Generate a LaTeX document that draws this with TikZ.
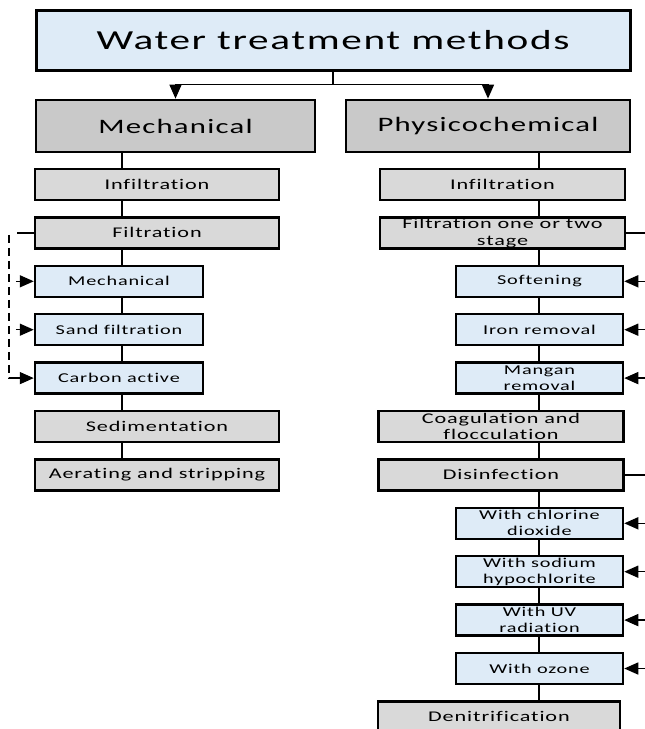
\documentclass[tikz,border=0pt]{standalone}
\usepackage{fontspec}
\setmainfont{Carlito}[FakeStretch=1.5,LetterSpace=6,Ligatures=NoCommon,RawFeature={-liga;-clig;-dlig}]
\usetikzlibrary{arrows.meta,backgrounds}
\definecolor{bluefill}{HTML}{DEEBF7}
\definecolor{grayfill}{HTML}{D9D9D9}
\definecolor{hdrfill}{HTML}{C9C9C9}
\begin{document}
\begin{tikzpicture}[x=1pt,y=-1pt,
  boxbase/.style={draw=black, line width=2.5pt, inner sep=0pt, minimum height=31pt, align=center},
  graybox/.style={boxbase, fill=grayfill, minimum width=245pt, font=\fontsize{14.8}{16.5}\selectfont},
  bluebox/.style={boxbase, fill=bluefill, minimum width=167pt, font=\fontsize{13.5}{16}\selectfont},
  hdrbox/.style={boxbase, line width=2.7pt, fill=hdrfill, minimum height=52pt, font=\fontsize{20.5}{24}\selectfont},
  titlebox/.style={boxbase, line width=3pt, fill=bluefill, minimum width=594pt, minimum height=60pt, font=\fontsize{27.5}{32}\selectfont},
  conn/.style={line width=1.5pt},
  arr/.style={conn, -{Triangle[length=14pt,width=12pt]}},
  dsh/.style={conn, dash pattern=on 8pt off 5pt},
]
\useasboundingbox (0,0) rectangle (645,729);
\clip (0,0) rectangle (645,729);

% title and headers
\node[titlebox] (title) at (333,40) {Water treatment methods};
\node[hdrbox, minimum width=279pt] (mech) at (175.5,126) {Mechanical};
\node[hdrbox, minimum width=284pt] (phys) at (488,126) {Physicochemical};

% left column
\node[graybox, minimum width=244pt] (linf) at (157,184.5) {Infiltration};
\node[graybox, minimum width=244pt] (lfil) at (157,232.9) {Filtration};
\node[bluebox, minimum width=168pt] (lmec) at (119,281.3) {Mechanical};
\node[bluebox, minimum width=168pt] (lsan) at (119,329.7) {Sand filtration};
\node[bluebox, minimum width=168pt] (lcar) at (119,378.1) {Carbon active};
\node[graybox, minimum width=244pt] (lsed) at (157,426.5) {Sedimentation};
\node[graybox, minimum width=244pt] (laer) at (157,474.9) {Aerating and stripping};

% right column
\node[graybox] (rinf) at (502.5,184.5) {Infiltration};
\node[graybox] (rfil) at (502.5,232.9) {Filtration one or two\\stage};
\node[bluebox] (rsof) at (539.5,281.3) {Softening};
\node[bluebox] (riro) at (539.5,329.7) {Iron removal};
\node[bluebox] (rman) at (539.5,378.1) {Mangan\\removal};
\node[graybox] (rcoa) at (501,426.5) {Coagulation and\\flocculation};
\node[graybox] (rdis) at (501,474.9) {Disinfection};
\node[bluebox] (rchl) at (539.5,523.3) {With chlorine\\dioxide};
\node[bluebox] (rsod) at (539.5,571.7) {With sodium\\hypochlorite};
\node[bluebox] (ruv) at (539.5,620.1) {With UV\\radiation};
\node[bluebox] (roz) at (539.5,668.5) {With ozone};
\node[graybox, minimum width=242pt] (rden) at (499,716.9) {Denitrification};

% trunk coordinates
\coordinate (ltr) at (122,0);
\coordinate (rtr) at (539,0);
\coordinate (dl) at (9,0);
\coordinate (redge) at (652,0);

\begin{pgfonlayer}{background}
  \fill[white] (0,0) rectangle (645,729);
  \draw[conn] (mech.south -| ltr) -- (laer.north -| ltr);
  \draw[conn] (phys.south -| rtr) -- (rden.north -| rtr);
\end{pgfonlayer}

% title split
\draw[conn] (title.south) -- ++(0,13) coordinate (split);
\draw[arr] (split) -| (mech.north);
\draw[arr] (split) -| (phys.north);

% left dashed bypass
\draw[conn] (lfil.west) -- ++(-17,0);
\draw[dsh] ([yshift=-2pt]lfil.west -| dl) -- (lcar.west -| dl) -- ++(9,0);
\draw[arr] ([xshift=-18pt]lmec.west) -- (lmec.west);
\draw[arr] ([xshift=-18pt]lsan.west) -- (lsan.west);
\draw[arr] ([xshift=-18pt]lcar.west) -- (lcar.west);

% right side connectors
\draw[conn] (rfil.east) -- (rfil.east -| redge);
\draw[arr] (rsof.east -| redge) -- (rsof.east);
\draw[arr] (riro.east -| redge) -- (riro.east);
\draw[arr] (rman.east -| redge) -- (rman.east);
\draw[conn] (rdis.east) -- (rdis.east -| redge);
\draw[arr] (rchl.east -| redge) -- (rchl.east);
\draw[arr] (rsod.east -| redge) -- (rsod.east);
\draw[arr] (ruv.east -| redge) -- (ruv.east);
\draw[arr] (roz.east -| redge) -- (roz.east);
\end{tikzpicture}
\end{document}
